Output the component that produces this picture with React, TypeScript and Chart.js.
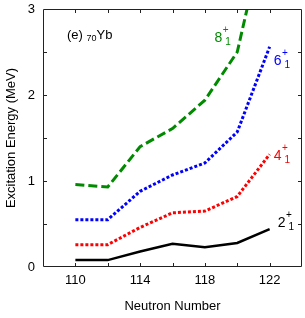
import React, { useEffect, useRef } from "react";
import { Chart, registerables } from "chart.js";

Chart.register(...registerables);

const neutrons = [110, 112, 114, 116, 118, 120, 122];
const e2 = [0.08, 0.08, 0.18, 0.27, 0.23, 0.28, 0.44];
const e4 = [0.26, 0.26, 0.46, 0.63, 0.65, 0.82, 1.31];
const e6 = [0.55, 0.55, 0.88, 1.07, 1.21, 1.57, 2.56];
const e8 = [0.96, 0.93, 1.4, 1.61, 1.94, 2.5, 4.15];
const xLabelTicks = [110, 114, 118, 122];

const seriesLabels = [
  { main: "8", color: "#008a00", x: 118.6, y: 2.62 },
  { main: "6", color: "#0000ff", x: 122.25, y: 2.35 },
  { main: "4", color: "#ff0000", x: 122.25, y: 1.245 },
  { main: "2", color: "#000000", x: 122.5, y: 0.465 },
];

const FONT = "'Liberation Sans', Arial, Helvetica, sans-serif";

export default function App() {
  const ref = useRef<HTMLCanvasElement | null>(null);

  useEffect(() => {
    document.body.style.margin = "0";
    const canvas = ref.current;
    if (!canvas) return;

    const framePlugin = {
      id: "frame",
      afterDatasetsDraw(chart: any) {
        const { ctx, chartArea } = chart;
        const { left, right, top, bottom } = chartArea;
        const xs = chart.scales.x;
        const ys = chart.scales.y;
        ctx.save();
        ctx.strokeStyle = "#222";
        ctx.lineWidth = 1;
        ctx.beginPath();
        ctx.rect(left + 0.5, top + 0.5, right - left - 1, bottom - top - 1);
        const tl = 4;
        xs.ticks.forEach((t: any) => {
          const px = Math.round(xs.getPixelForValue(t.value)) + 0.5;
          if (px <= left + 1 || px >= right - 1) return;
          ctx.moveTo(px, bottom);
          ctx.lineTo(px, bottom - tl);
          ctx.moveTo(px, top);
          ctx.lineTo(px, top + tl);
        });
        ys.ticks.forEach((t: any) => {
          const py = Math.round(ys.getPixelForValue(t.value)) + 0.5;
          if (py <= top + 1 || py >= bottom - 1) return;
          ctx.moveTo(left, py);
          ctx.lineTo(left + tl, py);
          ctx.moveTo(right, py);
          ctx.lineTo(right - tl, py);
        });
        ctx.stroke();

        // series labels
        ctx.textBaseline = "alphabetic";
        ctx.textAlign = "left";
        seriesLabels.forEach((l) => {
          const px = xs.getPixelForValue(l.x);
          const py = ys.getPixelForValue(l.y);
          ctx.fillStyle = l.color;
          ctx.font = `14px ${FONT}`;
          ctx.fillText(l.main, px, py);
          const w = ctx.measureText(l.main).width;
          ctx.font = `10px ${FONT}`;
          ctx.fillText("+", px + w + 0.5, py - 9);
          ctx.fillText("1", px + w + 3, py + 3);
        });

        // panel title
        const tx = xs.getPixelForValue(109.48);
        const ty = ys.getPixelForValue(2.65);
        ctx.fillStyle = "#000";
        ctx.font = `13px ${FONT}`;
        ctx.fillText("(e)", tx, ty);
        const w = ctx.measureText("(e) ").width;
        ctx.font = `9px ${FONT}`;
        ctx.fillText("70", tx + w, ty + 2);
        const w2 = ctx.measureText("70").width;
        ctx.font = `13px ${FONT}`;
        ctx.fillText("Yb", tx + w + w2, ty);
        ctx.restore();
      },
    };

    const mk = (data: number[]) => neutrons.map((n, i) => ({ x: n, y: data[i] }));

    const chart = new Chart(canvas, {
      type: "line",
      data: {
        datasets: [
          { data: mk(e2), borderColor: "#000", borderWidth: 2.5, pointRadius: 0, tension: 0 },
          { data: mk(e4), borderColor: "#ff0000", borderWidth: 3, borderDash: [3, 2], pointRadius: 0, tension: 0 },
          { data: mk(e6), borderColor: "#0000ff", borderWidth: 3, borderDash: [3, 2], pointRadius: 0, tension: 0 },
          { data: mk(e8), borderColor: "#008a00", borderWidth: 3, borderDash: [9, 4], pointRadius: 0, tension: 0 },
        ],
      },
      options: {
        animation: false,
        responsive: false,
        maintainAspectRatio: false,
        layout: { padding: { left: 0, right: 3, top: 9, bottom: 0 } },
        plugins: { legend: { display: false }, tooltip: { enabled: false } },
        scales: {
          x: {
            type: "linear",
            min: 108,
            max: 124,
            border: { display: false },
            grid: { display: false, drawTicks: false },
            ticks: {
              stepSize: 2,
              padding: 6,
              color: "#000",
              font: { family: FONT, size: 13 },
              maxRotation: 0,
              autoSkip: false,
              callback: (v: any) => (xLabelTicks.includes(Number(v)) ? String(v) : ""),
            },
            title: {
              display: true,
              text: "Neutron Number",
              color: "#000",
              font: { family: FONT, size: 13 },
              padding: { top: 4, bottom: 4 },
            },
            afterFit: (s: any) => {
              s.height = 51;
              s.paddingLeft = 0;
              s.paddingRight = 0;
            },
          },
          y: {
            type: "linear",
            min: 0,
            max: 3,
            border: { display: false },
            grid: { display: false, drawTicks: false },
            ticks: {
              stepSize: 0.5,
              padding: 8,
              color: "#000",
              font: { family: FONT, size: 13 },
              autoSkip: false,
              callback: (v: any) => (Number.isInteger(Number(v)) ? String(v) : ""),
            },
            title: {
              display: true,
              text: "Excitation Energy (MeV)",
              color: "#000",
              font: { family: FONT, size: 13 },
              padding: { top: 4, bottom: 2 },
            },
            afterFit: (s: any) => {
              s.width = 43;
              s.paddingTop = 0;
              s.paddingBottom = 0;
            },
          },
        },
      },
      plugins: [framePlugin],
    });
    return () => chart.destroy();
  }, []);

  return (
    <div style={{ width: 305, height: 318 }}>
      <canvas ref={ref} width={305} height={318} style={{ display: "block" }} />
    </div>
  );
}
